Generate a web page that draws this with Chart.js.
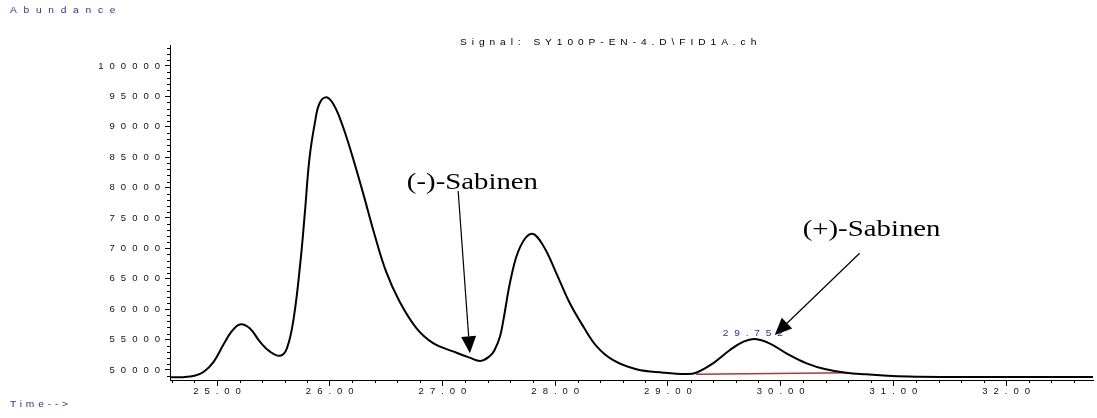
<!DOCTYPE html>
<html>
<head>
<meta charset="utf-8">
<title>Signal: SY100P-EN-4.D\FID1A.ch</title>
<script src="https://cdn.jsdelivr.net/npm/chart.js@4.4.1/dist/chart.umd.min.js"></script>
<style>
	html, body { margin: 0; padding: 0; background: #fff; }
	canvas { display: block; }
</style>
</head>
<body>
<canvas id="fidChart" width="1097" height="418"></canvas>
<script>
// retention time (min) and detector abundance
const times = [24.58, 24.70, 24.80, 24.88, 24.97, 25.056, 25.13, 25.204, 25.29, 25.38,
	25.47, 25.56, 25.62, 25.68, 25.74, 25.78, 25.82, 25.87, 25.91, 25.97,
	26.03, 26.09, 26.15, 26.21, 26.30, 26.39, 26.50, 26.62, 26.77, 26.92,
	27.10, 27.24, 27.34, 27.42, 27.46, 27.51, 27.54, 27.61, 27.69, 27.79,
	27.89, 28.01, 28.13, 28.25, 28.37, 28.51, 28.72, 28.96, 29.16, 29.25,
	29.40, 29.55, 29.67, 29.77, 29.90, 30.05, 30.23, 30.40, 30.58, 30.76,
	30.99, 31.23, 31.60, 32.00, 32.40, 32.77];
const abundance = [48800, 48820, 49050, 49680, 51350, 54150, 56350, 57500, 56860, 54660,
	53010, 52350, 53570, 58500, 67820, 76040, 84820, 90850, 93870, 94850,
	93800, 91400, 88200, 84600, 78800, 72750, 66170, 61240, 56860, 54390,
	53010, 52030, 51500, 52300, 53200, 55500, 58200, 65350, 70280, 72400,
	70560, 65900, 60970, 57120, 53830, 51650, 50110, 49560, 49340, 49550,
	51100, 53290, 54660, 55100, 54390, 52750, 51100, 50110, 49560, 49290,
	49010, 48900, 48850, 48850, 48830, 48830];

// integration baseline under the 29.752 peak
const baseTimes = [29.25, 30.61];
const baseValues = [49290, 49560];

const peakTime = 29.752;
const peakValue = 55100;

const xTicks = [25, 26, 27, 28, 29, 30, 31, 32];
const yTicks = [50000, 55000, 60000, 65000, 70000, 75000, 80000, 85000, 90000, 95000, 100000];

// annotations: text anchor and arrow from/to, in data units
const annoLabels = ['(-)-Sabinen', '(+)-Sabinen'];
const annoTextX = [26.684, 30.195];
const annoTextY = [79770, 72040];
const arrowFromX = [27.139, 30.700];
const arrowFromY = [79440, 69194];
const arrowToX = [27.243, 29.947];
const arrowToY = [52747, 55756];

(function initChart(){
	const SANS = '"Liberation Sans", Arial, sans-serif';
	const SERIF = '"Liberation Serif", "Times New Roman", serif';
	const STRETCH = 1.2; // the source print is widened horizontally

	function spacedText(ctx, text, x, y, size, spacing, color, align){
		ctx.save();
		ctx.translate(x, y);
		ctx.scale(STRETCH, 1);
		ctx.font = size + 'px ' + SANS;
		ctx.letterSpacing = spacing + 'px';
		ctx.fillStyle = color;
		ctx.textAlign = align || 'left';
		ctx.textBaseline = 'alphabetic';
		ctx.fillText(text, 0, 0);
		ctx.restore();
	}

	function arrow(ctx, x1, y1, x2, y2){
		const ang = Math.atan2(y2 - y1, x2 - x1);
		const len = 17, half = 7.5;
		const bx = x2 - len * Math.cos(ang), by = y2 - len * Math.sin(ang);
		ctx.beginPath();
		ctx.moveTo(x1, y1);
		ctx.lineTo(bx, by);
		ctx.stroke();
		ctx.beginPath();
		ctx.moveTo(x2, y2);
		ctx.lineTo(bx + half * Math.sin(ang), by - half * Math.cos(ang));
		ctx.lineTo(bx - half * Math.sin(ang), by + half * Math.cos(ang));
		ctx.closePath();
		ctx.fill();
	}

	const decorations = {
		id: 'decorations',
		beforeDraw(chart){
			const ctx = chart.ctx;
			ctx.save();
			ctx.fillStyle = '#fff';
			ctx.fillRect(0, 0, chart.width, chart.height);
			ctx.restore();
			// chemstation style spaced-out tick labels
			ctx.letterSpacing = '6px';
		},
		afterDraw(chart){
			const ctx = chart.ctx;
			const xs = chart.scales.x, ys = chart.scales.y;
			const area = chart.chartArea;
			ctx.letterSpacing = '0px';

			// minor ticks
			ctx.save();
			ctx.strokeStyle = '#000';
			ctx.lineWidth = 1;
			ctx.beginPath();
			for (let v = 49000; v <= 103000; v += 1000) {
				if (v % 5000 === 0) continue;
				const py = Math.round(ys.getPixelForValue(v)) + 0.5;
				ctx.moveTo(area.left - 3, py);
				ctx.lineTo(area.left, py);
			}
			for (let i = 123; i <= 163; i++) {
				if (i % 5 === 0) continue;
				const px = Math.round(xs.getPixelForValue(i / 5)) + 0.5;
				ctx.moveTo(px, area.bottom);
				ctx.lineTo(px, area.bottom + 3);
			}
			ctx.stroke();
			ctx.restore();

			// header / footer texts
			spacedText(ctx, 'Abundance', 10, 13, 8.5, 5.6, '#2e2eaa');
			spacedText(ctx, 'Signal: SY100P-EN-4.D\\FID1A.ch', 460, 45, 8.5, 4.1, '#000');
			spacedText(ctx, 'Time-->', 10, 407, 8.5, 3.2, '#2e2eaa');

			// peak label
			spacedText(ctx, String(peakTime), xs.getPixelForValue(peakTime) + 3, ys.getPixelForValue(peakValue) - 3, 8.5, 4.8, '#2e2eaa', 'center');

			// compound annotations
			ctx.save();
			ctx.fillStyle = '#000';
			ctx.strokeStyle = '#000';
			ctx.lineWidth = 1.2;
			annoLabels.forEach((label, i) => {
				ctx.save();
				ctx.translate(xs.getPixelForValue(annoTextX[i]), ys.getPixelForValue(annoTextY[i]));
				ctx.scale(STRETCH, 1);
				ctx.font = '24px ' + SERIF;
				ctx.textAlign = 'left';
				ctx.textBaseline = 'alphabetic';
				ctx.fillText(label, 0, 0);
				ctx.restore();
				arrow(ctx,
					xs.getPixelForValue(arrowFromX[i]), ys.getPixelForValue(arrowFromY[i]),
					xs.getPixelForValue(arrowToX[i]), ys.getPixelForValue(arrowToY[i]));
			});
			ctx.restore();
		}
	};

	const tickFont = { family: SANS, size: 9.5 };

	new Chart(document.getElementById('fidChart'), {
		type: 'line',
		data: {
			datasets: [
				{
					label: 'FID1A',
					data: times.map((t, i) => ({ x: t, y: abundance[i] })),
					borderColor: '#000',
					borderWidth: 2,
					pointRadius: 0,
					tension: 0.4,
					order: 0
				},
				{
					label: 'baseline',
					data: baseTimes.map((t, i) => ({ x: t, y: baseValues[i] })),
					borderColor: '#a83a3a',
					borderWidth: 1.5,
					pointRadius: 0,
					tension: 0,
					order: 1
				}
			]
		},
		options: {
			responsive: false,
			devicePixelRatio: 1,
			animation: false,
			events: [],
			layout: { padding: { left: 0, top: 45, right: 4, bottom: 0 } },
			plugins: { legend: { display: false }, tooltip: { enabled: false }, title: { display: false } },
			scales: {
				x: {
					type: 'linear',
					min: 24.583,
					max: 32.77,
					afterBuildTicks: s => { s.ticks = xTicks.map(v => ({ value: v })); },
					afterFit: s => { s.height = 38; },
					ticks: {
						autoSkip: false,
						maxRotation: 0,
						padding: 0,
						labelOffset: 3,
						color: '#111',
						font: tickFont,
						callback: v => Number(v).toFixed(2)
					},
					grid: { drawOnChartArea: false, drawTicks: true, tickLength: 6, tickColor: '#000' },
					border: { display: true, color: '#000', width: 1 }
				},
				y: {
					min: 48355,
					max: 103450,
					afterBuildTicks: s => { s.ticks = yTicks.map(v => ({ value: v })); },
					afterFit: s => { s.width = 170; },
					ticks: {
						padding: -1,
						color: '#111',
						font: tickFont,
						callback: v => String(v)
					},
					grid: { drawOnChartArea: false, drawTicks: true, tickLength: 5, tickColor: '#000' },
					border: { display: true, color: '#000', width: 1 }
				}
			}
		},
		plugins: [decorations]
	});
})();
</script>
</body>
</html>
